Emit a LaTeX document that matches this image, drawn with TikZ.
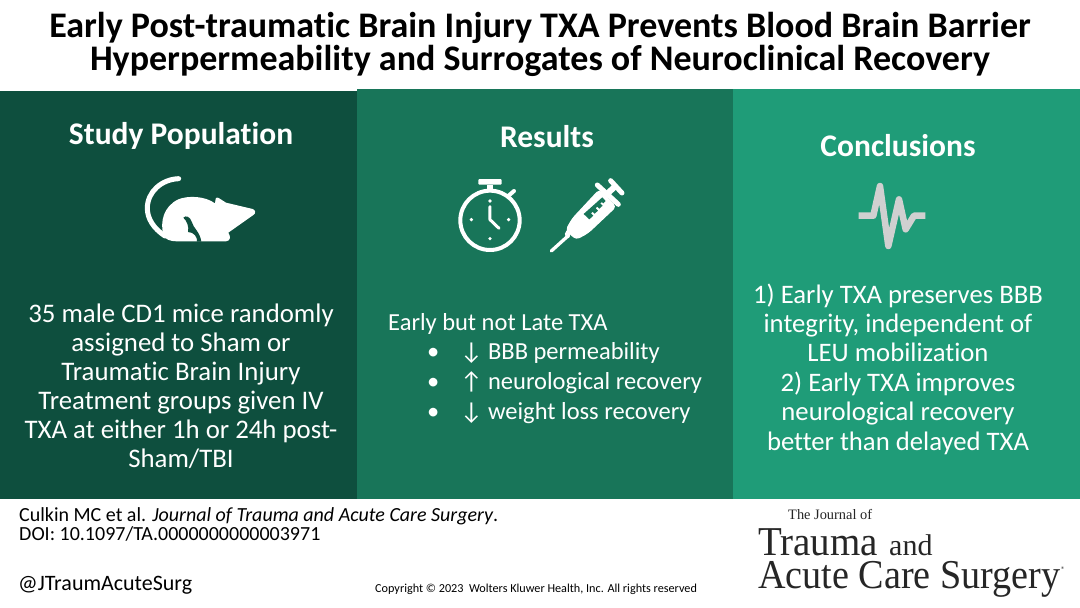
\documentclass[tikz,border=0pt]{standalone}
\usepackage{fontspec}
\setmainfont[Ligatures=NoCommon]{Carlito}
\newfontfamily\logofont{Liberation Serif}
\definecolor{panelA}{HTML}{0E4F3E}
\definecolor{panelB}{HTML}{187559}
\definecolor{panelC}{HTML}{1F9C78}
\definecolor{pulse}{HTML}{D0D0D0}
\newcommand{\fs}[2]{\fontsize{#1}{#2}\selectfont}
\tikzset{
 panel/.style={draw=none,fill=#1},
 heading/.style={text=white,font=\fs{31.5}{32}\bfseries,anchor=center,inner sep=0pt},
 bodya/.style={text=white,align=center,inner sep=0pt},
 bodyl/.style={text=white,font=\fs{24.5}{25},inner sep=0pt,anchor=west},
 foot/.style={text=black,inner sep=0pt,anchor=west},
 logo/.style={text=black!85,inner sep=0pt,anchor=base west},
 iconline/.style={draw=white,line width=#1,line cap=round,line join=round},
}
\begin{document}
\begin{tikzpicture}[x=1pt,y=-1pt]
\useasboundingbox (0,0) rectangle (1080,608);
\fill[white] (0,0) rectangle (1080,608);
\fill[panel=panelA] (0,91) rectangle (357,499);
\fill[panel=panelB] (357,89) rectangle (733,499);
\fill[panel=panelC] (733,89) rectangle (1080,499);
\node[inner sep=0pt,align=center,font=\fs{36}{31}\bfseries] (title) at (540,44.5) {Early Post-traumatic Brain Injury TXA Prevents Blood Brain Barrier\\Hyperpermeability and Surrogates of Neuroclinical Recovery};
\node[heading] (h1) at (181,136) {Study Population};
\node[heading] (h2) at (547,137) {Results};
\node[heading] (h3) at (898,146) {Conclusions};
\node[bodya,font=\fs{26.8}{29}] (b1) at (181,386) {35 male CD1 mice randomly\\assigned to Sham or\\Traumatic Brain Injury\\Treatment groups given IV\\TXA at either 1h or 24h post-\\Sham/TBI};
\node[bodyl] (b2a) at (388,323.5) {Early but not Late TXA};
\node[bodyl] (b2b) at (427,353) {•\hspace{21pt}↓ BBB permeability};
\node[bodyl] (b2c) at (427,383) {•\hspace{21pt}↑ neurological recovery};
\node[bodyl] (b2d) at (427,413) {•\hspace{21pt}↓ weight loss recovery};
\node[bodya,font=\fs{26.7}{29.4}] (b3) at (898,369) {1) Early TXA preserves BBB\\integrity, independent of\\LEU mobilization\\2) Early TXA improves\\neurological recovery\\better than delayed TXA};
% rat
\begin{scope}[shift={(100,160)},x=0.3333pt,y=-0.3333pt]
\draw[iconline=5pt] (236,56) .. controls (185,58) and (142,95) .. (142,145) .. controls (142,175) and (160,205) .. (195,228);
\fill[white] (190,225) .. controls (180,185) and (190,140) .. (235,118) .. controls (265,106) and (315,108) .. (345,130) -- (347,116) .. controls (349,112) and (352,112) .. (356,114) -- (378,128) -- (458,147) .. controls (467,150) and (468,160) .. (460,165) -- (385,218) .. controls (392,228) and (393,243) .. (378,244) -- (230,244) .. controls (210,244) and (195,238) .. (190,225) -- cycle;
\fill[panelA] (250,173) .. controls (258,165) and (270,170) .. (275,185) .. controls (280,205) and (300,215) .. (304,245) -- (291,245) .. controls (293,232) and (282,216) .. (264,216) .. controls (268,200) and (260,182) .. (250,173) -- cycle;
\end{scope}
% stopwatch
\begin{scope}[shift={(440,165)},x=0.3333pt,y=-0.3333pt]
\draw[iconline=4pt] (150,166) circle[radius=89];
\fill[white,rounded corners=1pt] (115,42) rectangle (185,59);
\fill[white] (141,59) rectangle (159,78);
\draw[iconline=4pt] (206,92) -- (222,78);
\draw[iconline=3pt] (150,125) -- (150,164) -- (177,190);
\fill[white] (150,108) circle[radius=5.5] (150,221) circle[radius=5.5] (94,164) circle[radius=5.5] (206,164) circle[radius=5.5];
\end{scope}
% syringe
\begin{scope}[shift={(440,165)},x=0.3333pt,y=-0.3333pt]
\draw[iconline=3.3pt] (334,258) -- (385,212);
\fill[white,rounded corners=2pt] (372,212) -- (382,192) -- (393,205) -- (386,222) -- cycle;
\fill[white,rounded corners=4pt] (376,195) -- (396,160) -- (478,72) -- (530,125) -- (445,205) -- (408,225) -- cycle;
\draw[white,line width=5pt,line cap=round] (472,60) -- (535,118);
\draw[white,line width=5pt,line cap=round] (512,47) -- (546,84);
\draw[white,line width=6pt] (492,95) -- (528,62);
\fill[panelB] (431,147) -- (487,97) -- (497,108) -- (490,115) -- (486,111) -- (481,116) -- (488,122) -- (478,131) -- (472,125) -- (467,130) -- (474,137) -- (464,146) -- (458,140) -- (453,145) -- (460,152) -- (448,163) -- cycle;
\end{scope}
% pulse
\begin{scope}[shift={(840,170)},x=0.3333pt,y=-0.3333pt]
\draw[pulse,line width=6.5pt,line join=round] (56,137) -- (100,137) -- (120,48) -- (145,228) -- (177,88) -- (197,178) -- (222,137) -- (256,137);
\end{scope}
% footer
\node[foot,font=\fs{20}{20}] (cite) at (19,516) {Culkin MC et al. \textit{Journal of Trauma and Acute Care Surgery}.};
\node[foot,font=\fs{20}{20}] (doi) at (19,534) {DOI: 10.1097/TA.0000000000003971};
\node[foot,font=\fs{22}{22}] (tw) at (18,585) {@JTraumAcuteSurg};
\node[foot,font=\fs{12.2}{12.2}] (copy) at (375,589) {Copyright © 2023\ \ Wolters Kluwer Health, Inc. All rights reserved};
% logo
\node[logo,font=\logofont\fs{14.4}{15}] (l1) at (788,519) {The Journal of};
\node[logo,font=\logofont\fs{41}{41},xscale=.95] (l2) at (758,555) {Trauma};
\node[logo,font=\logofont\fs{30}{30}] (l2b) at (889,555) {and};
\node[logo,font=\logofont\fs{41}{41},xscale=.93] (l3) at (758,588) {Acute Care Surgery};
\node[logo,font=\fs{8}{8}] (l4) at (1061,572) {®};
\end{tikzpicture}
\end{document}
